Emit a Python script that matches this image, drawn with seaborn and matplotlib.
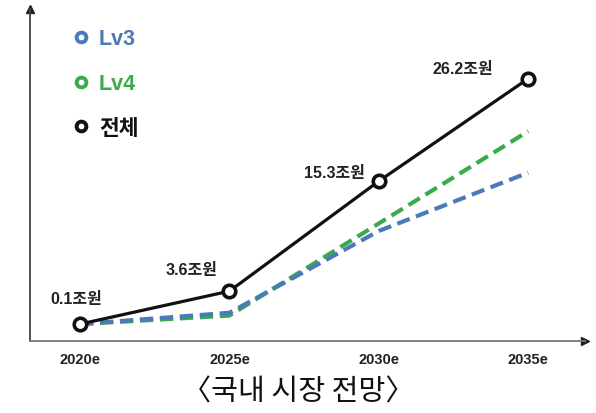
import matplotlib
matplotlib.use("Agg")
import matplotlib.pyplot as plt
from matplotlib.lines import Line2D
import seaborn as sns
import pandas as pd

years = ["2020e", "2025e", "2030e", "2035e"]
total = [0.1, 3.6, 15.3, 26.2]
lv3 = [0.1, 1.3, 10.0, 16.2]
lv4 = [0.1, 1.0, 10.8, 20.6]
value_labels = ["0.1조원", "3.6조원", "15.3조원", "26.2조원"]
series_names = ["Lv3", "Lv4", "전체"]
caption = "〈국내 시장 전망〉"

sns.set_theme(style="white")
plt.rcParams["font.family"] = ["Noto Sans CJK KR", "DejaVu Sans"]
MIXED = ["Liberation Sans", "Noto Sans CJK KR"]

C_LV3 = "#4a7ab8"
C_LV4 = "#3aab4a"
C_TOT = "#111111"

fig = plt.figure(figsize=(5.96, 4.14), dpi=100)
ax = fig.add_axes([30 / 596, 1 - 342 / 414, 555 / 596, 332 / 414])

df = pd.DataFrame({"year": years, "Lv3": lv3, "Lv4": lv4, "전체": total})
xpos = list(range(len(years)))
df["x"] = xpos

sns.lineplot(data=df, x="x", y="Lv4", ax=ax, color=C_LV4, lw=3.0,
             dashes=False, linestyle=(0, (3.2, 1.6)), zorder=2)
sns.lineplot(data=df, x="x", y="Lv3", ax=ax, color=C_LV3, lw=3.0,
             dashes=False, linestyle=(0, (3.2, 1.6)), zorder=3)
sns.lineplot(data=df, x="x", y="전체", ax=ax, color=C_TOT, lw=2.3,
             marker="o", markersize=9, markerfacecolor="white",
             markeredgecolor=C_TOT, markeredgewidth=2.6, zorder=4)

ax.set_xlim(-0.335, 3.38)
ax.set_ylim(-1.7, 33.6)
ax.set_xlabel("")
ax.set_ylabel("")
ax.set_yticks([])
ax.set_xticks(xpos)
ax.set_xticklabels(years, fontsize=10.5, family=["Liberation Sans"],
                   fontweight="bold", color="#222222")
ax.tick_params(axis="x", length=0, pad=8)

for s in ["top", "right"]:
    ax.spines[s].set_visible(False)
ax.spines["left"].set_color("#444444")
ax.spines["left"].set_linewidth(1.3)
ax.spines["bottom"].set_color("#777777")
ax.spines["bottom"].set_linewidth(1.3)
ax.plot([0], [1], marker="^", color="#222222", markersize=6,
        transform=ax.transAxes, clip_on=False)
ax.plot([1], [0], marker=">", color="#222222", markersize=6,
        transform=ax.transAxes, clip_on=False)

offsets = [(-4, 26), (-38, 22), (-44, 9), (-65, 10)]
for i, (lab, v) in enumerate(zip(value_labels, total)):
    ax.annotate(lab, (xpos[i], v), xytext=offsets[i], textcoords="offset pixels",
                ha="center", va="center", fontsize=11.5, fontweight="bold",
                family=MIXED, color="#222222")

handles = [
    Line2D([], [], ls="none", marker="o", markersize=7, markerfacecolor="white",
           markeredgecolor=c, markeredgewidth=2.8)
    for c in (C_LV3, C_LV4, C_TOT)
]
leg = ax.legend(handles, series_names, loc="upper left",
                bbox_to_anchor=(0.045, 1.0), frameon=False,
                prop={"size": 15.5, "weight": "bold", "family": MIXED},
                labelcolor=[C_LV3, C_LV4, C_TOT], handlelength=0.6,
                handletextpad=0.55, labelspacing=1.1)

fig.text(0.5, 1 - 392 / 414, caption, ha="center", va="center",
         fontsize=21, color="#111111")

fig.savefig("out.png", dpi=100)
